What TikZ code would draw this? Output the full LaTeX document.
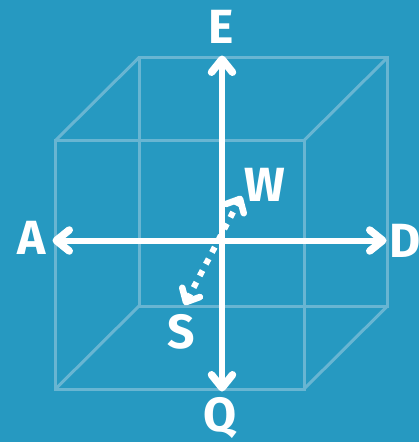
\documentclass[tikz,border=0pt]{standalone}
\usepackage{fontspec}
\setmainfont{Fira Sans}
\usetikzlibrary{arrows.meta}
\definecolor{bgblue}{HTML}{2699C1}
\definecolor{cubeline}{HTML}{68B5D2}
\tikzset{
  x=1pt,y=-1pt,
  cube/.style={draw=cubeline,line width=3pt,line join=miter},
  axis/.style={draw=white,line width=6pt,{Straight Barb[round,length=13pt,width=21pt,line width=7.5pt]}-{Straight Barb[round,length=13pt,width=21pt,line width=7.5pt]}},
  depth/.style={draw=white,line width=6pt,dash pattern=on 6pt off 7.2pt,dash phase=0pt,{Straight Barb[round,length=11pt,width=20pt,line width=6.5pt]}-{Straight Barb[round,length=11pt,width=20pt,line width=6.5pt]}},
  lab/.style={text=white,font=\bfseries\fontsize{48}{48}\selectfont,anchor=base,inner sep=0pt,outer sep=0pt},
}
\begin{document}
\begin{tikzpicture}
\useasboundingbox (0,0) rectangle (419,442);
\fill[bgblue] (0,0) rectangle (419,442);
\coordinate (f1) at (55.5,140.5);
\coordinate (f2) at (304,140.5);
\coordinate (f3) at (304,389);
\coordinate (f4) at (55.5,389);
\coordinate (b1) at (139,57.5);
\coordinate (b2) at (387.5,57.5);
\coordinate (b3) at (387.5,306);
\coordinate (b4) at (139,306);
\draw[cube] (f1)--(f2)--(f3)--(f4)--cycle;
\draw[cube] (b1)--(b2)--(b3)--(b4)--cycle;
\draw[cube] (f1)--(b1) (f2)--(b2) (f3)--(b3) (f4)--(b4);
\coordinate (top) at (222,55.5);
\coordinate (bot) at (222,391.5);
\coordinate (lft) at (52.5,240.5);
\coordinate (rgt) at (386.5,240.5);
\coordinate (stip) at (184.5,305);
\coordinate (wtip) at (241.5,196);
\draw[axis] (bot)--(top);
\draw[axis] (lft)--(rgt);
\draw[depth] (stip)--(wtip);
\node[lab] (E) at (221,43) {E};
\node[lab] (A) at (32,254) {A};
\node[lab] (D) at (405,257) {D};
\node[lab] (W) at (265,201) {W};
\node[lab] (S) at (181,348) {S};
\node[lab] (Q) at (220,431.5) {Q};
\end{tikzpicture}
\end{document}
